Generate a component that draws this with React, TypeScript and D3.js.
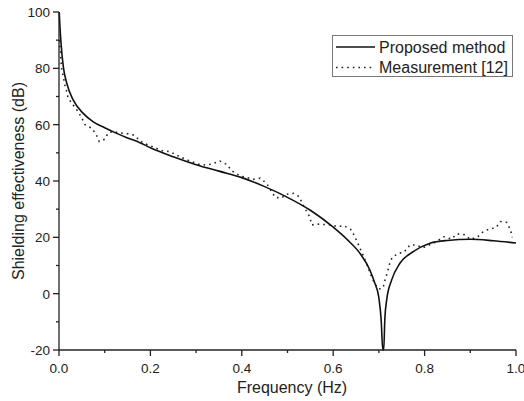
import React from "react";
import * as d3 from "d3";

const xTicks = [0, 0.2, 0.4, 0.6, 0.8, 1.0];
const xMinor = [0.1, 0.3, 0.5, 0.7, 0.9];
const yTicks = [-20, 0, 20, 40, 60, 80, 100];
const yMinor = [-10, 10, 30, 50, 70, 90];

const propFreq = [0.0005, 0.002, 0.0044, 0.0094, 0.017, 0.031, 0.053, 0.075, 0.1, 0.125, 0.15, 0.177, 0.2, 0.25, 0.3, 0.35, 0.4, 0.45, 0.5, 0.55, 0.6, 0.63, 0.66, 0.68, 0.69, 0.7, 0.705, 0.7085, 0.7105, 0.713, 0.717, 0.728, 0.746, 0.775, 0.812, 0.85, 0.9, 0.95, 1.0];
const propSE = [100, 95, 89, 80.6, 74.7, 68.8, 64, 61, 58.9, 57, 55.3, 53.6, 51.8, 48.6, 45.8, 43.5, 41.2, 38, 34.2, 29.6, 23.6, 19.3, 14, 8.5, 4.2, -1.5, -9.5, -20, -20, -9, -2.2, 4.9, 10.8, 14.9, 17.9, 18.9, 19.3, 18.8, 18];

const measFreq = [0.001, 0.006, 0.0094, 0.013, 0.017, 0.02, 0.031, 0.042, 0.05, 0.057, 0.072, 0.082, 0.088, 0.1, 0.108, 0.12, 0.135, 0.15, 0.163, 0.184, 0.2, 0.225, 0.243, 0.257, 0.28, 0.305, 0.32, 0.334, 0.352, 0.367, 0.378, 0.396, 0.411, 0.425, 0.44, 0.454, 0.473, 0.486, 0.498, 0.513, 0.526, 0.533, 0.549, 0.553, 0.564, 0.585, 0.597, 0.609, 0.624, 0.64, 0.648, 0.655, 0.667, 0.675, 0.681, 0.688, 0.697, 0.705, 0.71, 0.714, 0.719, 0.723, 0.729, 0.743, 0.755, 0.768, 0.781, 0.796, 0.81, 0.826, 0.842, 0.859, 0.87, 0.886, 0.9, 0.915, 0.928, 0.941, 0.956, 0.966, 0.98, 0.988, 0.992];
const measSE = [90, 79.4, 77, 74, 71.7, 69.4, 67, 64.6, 62.3, 60, 58.7, 56.3, 54, 54.8, 57.2, 57.5, 57, 56.8, 56.3, 53.5, 52.5, 50.8, 50.4, 49.2, 47.5, 46, 45.7, 46, 47.1, 45.9, 43.6, 41.8, 41.2, 40.6, 41, 39.2, 34.2, 33.9, 35.3, 35.6, 34.4, 31.8, 27.1, 24.4, 24.7, 24.5, 24.4, 23.8, 24.1, 22.6, 20, 17.5, 13, 9.8, 7.2, 4.6, 1.9, 1.6, 2.7, 5.2, 7.8, 10.4, 12.9, 14.3, 14.7, 17.3, 17.3, 16.3, 17.3, 18.5, 20.2, 19.4, 21.2, 21, 19.3, 20, 22, 22.9, 23.4, 25.6, 25.3, 22.6, 20];

const legendLabels = ["Proposed method", "Measurement [12]"];

export default function App() {
  const W = 524, H = 401;
  const x = d3.scaleLinear().domain([0, 1]).range([59, 516]);
  const y = d3.scaleLinear().domain([-20, 100]).range([350, 12]);
  const font = "Arial, 'Liberation Sans', sans-serif";
  const smooth = d3.line<[number, number]>().x(d => x(d[0])).y(d => y(d[1])).curve(d3.curveMonotoneX);
  const line = d3.line<[number, number]>().x(d => x(d[0])).y(d => y(d[1]));
  const prop = propFreq.map((f, i) => [f, propSE[i]] as [number, number]);
  const meas = measFreq.map((f, i) => [f, measSE[i]] as [number, number]);
  const fmt = (v: number) => v.toFixed(1);
  return (
    <svg width={W} height={H} style={{ position: "absolute", left: 0, top: 0, background: "#fff" }}>
      <rect x={0} y={0} width={W} height={H} fill="#fff" />
      <path d={line(meas) || ""} fill="none" stroke="#222" strokeWidth={1.6} strokeDasharray="1.6,4" />
      <path d={smooth(prop) || ""} fill="none" stroke="#111" strokeWidth={1.6} />
      {/* axes */}
      <line x1={x(0)} x2={x(0)} y1={y(-20)} y2={y(100)} stroke="#222" strokeWidth={1.3} />
      <line x1={x(0)} x2={x(1)} y1={y(-20)} y2={y(-20)} stroke="#222" strokeWidth={1.3} />
      {yTicks.map(t => (
        <g key={"y" + t}>
          <line x1={x(0) - 6} x2={x(0)} y1={y(t)} y2={y(t)} stroke="#222" strokeWidth={1.3} />
          <text x={x(0) - 9} y={y(t) + 5} textAnchor="end" fontFamily={font} fontSize={13.5} fill="#222">{t}</text>
        </g>
      ))}
      {yMinor.map(t => (
        <line key={"ym" + t} x1={x(0) - 3} x2={x(0)} y1={y(t)} y2={y(t)} stroke="#222" strokeWidth={1.3} />
      ))}
      {xTicks.map(t => (
        <g key={"x" + t}>
          <line x1={x(t)} x2={x(t)} y1={y(-20)} y2={y(-20) + 6} stroke="#222" strokeWidth={1.3} />
          <text x={x(t)} y={373} textAnchor="middle" fontFamily={font} fontSize={13.5} fill="#222">{fmt(t)}</text>
        </g>
      ))}
      {xMinor.map(t => (
        <line key={"xm" + t} x1={x(t)} x2={x(t)} y1={y(-20)} y2={y(-20) + 3} stroke="#222" strokeWidth={1.3} />
      ))}
      <text x={292} y={393} textAnchor="middle" fontFamily={font} fontSize={16} fill="#222">Frequency (Hz)</text>
      <text transform={`translate(24,181) rotate(-90)`} textAnchor="middle" fontFamily={font} fontSize={16} fill="#222">Shielding effectiveness (dB)</text>
      {/* legend */}
      <rect x={332.5} y={35.5} width={180} height={41} fill="#fff" stroke="#777" strokeWidth={1} />
      <line x1={336} x2={375} y1={47} y2={47} stroke="#111" strokeWidth={1.6} />
      <line x1={336} x2={375} y1={67.5} y2={67.5} stroke="#222" strokeWidth={1.6} strokeDasharray="1.6,4" />
      <text x={379} y={52.5} fontFamily={font} fontSize={16} fill="#222">{legendLabels[0]}</text>
      <text x={379} y={73} fontFamily={font} fontSize={16} fill="#222">{legendLabels[1]}</text>
    </svg>
  );
}
